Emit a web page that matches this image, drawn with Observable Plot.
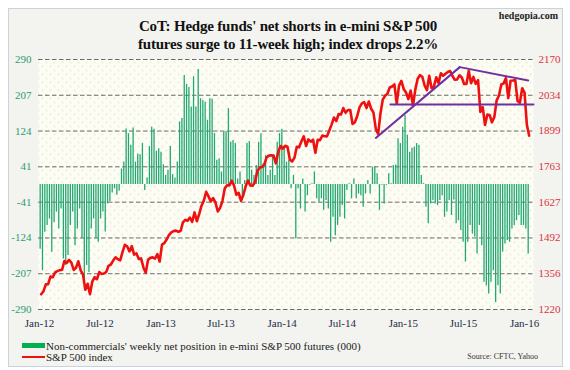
<!DOCTYPE html>
<html><head><meta charset="utf-8">
<script src="https://cdn.jsdelivr.net/npm/d3@7"></script>
<script src="https://cdn.jsdelivr.net/npm/@observablehq/plot@0.6"></script>
<style>
html,body{margin:0;padding:0;width:570px;height:370px;overflow:hidden;background:#fff;font-family:"Liberation Serif","DejaVu Serif",serif;}
#box{position:absolute;left:8px;top:8px;width:555px;height:359px;border:1px solid #c9d3de;background:#f3f3f0;box-sizing:border-box;}
#title{position:absolute;left:3px;top:17px;width:570px;text-align:center;font-weight:bold;font-size:15px;line-height:18px;color:#111;letter-spacing:-0.2px;}
#brand{position:absolute;right:12px;top:10px;font-weight:bold;font-size:10px;color:#222;}
#chart{position:absolute;left:0;top:48px;}
.sw{position:absolute;left:22px;width:23px;}
.lt{position:absolute;left:46px;font-size:11px;line-height:13px;color:#222;white-space:nowrap;}
#src{position:absolute;right:32px;top:352px;font-size:8px;line-height:10px;color:#333;}
</style></head>
<body>
<div id="box"></div>
<div id="title">CoT: Hedge funds' net shorts in e-mini S&amp;P 500<br>futures surge to 11-week high; index drops 2.2%</div>
<div id="brand">hedgopia.com</div>
<div id="chart"></div>
<div class="sw" style="top:343px;height:5px;background:#00b050;"></div>
<div class="lt" style="top:340px;">Non-commercials' weekly net position in e-mini S&amp;P 500 futures (000)</div>
<div class="sw" style="top:356px;height:2px;background:#ee1111;"></div>
<div class="lt" style="top:351px;">S&amp;P 500 index</div>
<div id="src">Source: CFTC, Yahoo</div>
<script>
// Weekly net position (000), Tuesdays from 2012-01-03
const netPos = [
-150,-200,-111,-95,-80,-157,-88,-64,-103,-57,
-173,-188,-165,-95,-64,-142,-103,-57,-126,-219,
-188,-204,-103,-80,-126,-134,-80,-64,-110,-45,
-40,-20,-10,-25,-15,
36,52,129,118,91,131,52,71,69,95,-14,15,88,133,128,77,83,75,46,21,33,88,23,15,52,145,153,253,232,225,180,250,180,267,199,
195,191,149,199,198,118,56,60,29,122,123,176,98,102,95,13,29,-37,9,95,100,33,21,44,98,118,48,67,21,33,67,21,98,118,128,88,
52,56,-10,21,-126,-10,-57,13,-64,-26,-2,2,29,-33,-41,-33,-60,-37,-57,-134,-76,-119,-95,-76,-49,-80,-14,2,-33,13,-33,-22,-26,-53,-22,
9,-22,40,40,25,-60,-2,-45,-2,25,2,44,45,106,95,133,160,114,75,84,87,95,91,21,2,-53,-91,-45,-37,-45,-49,-37,-26,-76,-64,
-37,-72,-36,-91,-84,-107,-134,-180,-134,-95,-115,-122,-161,-95,-142,-227,-235,-254,-227,-200,-274,-235,-254,-157,-138,-130,-134,-103,-95,-84,-72,-95,-95,-103,-161
];
const netStart = "2012-01-03";
// S&P 500 weekly close, Fridays from 2012-01-06
const spx = [
1277.81,1289.09,1315.38,1316.33,1344.90,1342.64,1361.23,1365.74,1369.63,1370.87,
1404.17,1397.11,1408.47,1398.08,1370.26,1378.53,1403.36,1369.10,1353.39,1295.22,
1317.82,1278.04,1325.66,1342.84,1335.02,1362.16,1354.68,1356.78,1362.66,1385.97,
1390.99,1405.87,1418.16,1411.13,1406.58,1437.92,1465.77,1460.15,1440.67,1460.93,
1428.59,1433.19,1411.94,1414.20,1379.85,1359.88,1409.15,1416.18,1418.07,1413.58,1430.15,1402.43,
1466.47,1472.05,1485.98,1502.96,1513.17,1517.93,1519.79,1515.60,1518.20,1551.18,1560.70,1556.89,1569.19,
1553.28,1588.85,1555.25,1582.24,1614.42,1633.70,1667.47,1649.60,1630.74,1643.38,1626.73,1592.43,1606.28,
1631.89,1680.19,1692.09,1691.65,1709.67,1691.42,1655.83,1663.50,1632.97,1655.17,1687.99,1709.91,1691.75,
1690.50,1703.20,1744.50,1759.77,1761.64,1770.61,1798.18,1804.76,1805.81,1805.09,1775.32,1818.32,1841.40,
1831.37,1842.37,1838.70,1790.29,1782.59,1797.02,1838.63,1836.25,1859.45,1878.04,1841.13,1866.52,1857.62,
1865.09,1815.69,1864.85,1863.40,1881.14,1878.48,1877.86,1900.53,1923.57,1949.44,1936.16,1962.87,1960.96,
1985.44,1967.57,1978.22,1978.34,1925.15,1931.59,1955.06,1988.40,2003.37,2007.71,1985.54,2010.40,1982.85,
1967.90,1906.13,1886.76,1964.58,2018.05,2031.92,2039.82,2063.50,2067.56,2075.37,2002.33,2070.65,2088.77,
2058.20,2044.81,2019.42,2051.82,1994.99,2055.47,2096.99,2110.30,2104.50,2071.26,2053.40,2108.10,2061.02,
2066.96,2102.06,2081.18,2117.69,2108.29,2116.10,2122.73,2126.06,2107.39,2092.83,2094.11,2109.99,2101.49,
2076.78,2076.62,2126.64,2079.65,2103.84,2077.57,2091.54,1970.89,1988.87,1921.22,1961.05,1958.03,1931.34,
1951.36,2014.89,2033.11,2075.15,2079.36,2099.20,2023.04,2089.17,2090.11,2091.69,2012.37,2005.55,2060.99,2043.94,
1922.03,1880.33
];
const spxStart = "2012-01-06";
const leftTicks = [-290,-207,-124,-41,41,124,207,290];
const rightTicks = [1220,1356,1492,1627,1763,1899,2034,2170];
const xTicks = ["2012-01-01","2012-07-01","2013-01-01","2013-07-01","2014-01-01","2014-07-01","2015-01-01","2015-07-01","2016-01-01"];
const trendUpDates = ["2014-10-10","2015-06-20"], trendUpVals = [1872,2141];
const trendDownDates = ["2015-06-20","2016-01-12"], trendDownVals = [2141,2090];
const supportDates = ["2014-11-23","2016-01-28"], supportVals = [1999,1999];

const toLeft = v => -290 + (v - 1220) * 580 / 950;
const bars = netPos.map((v,i)=>({date: d3.utcDay.offset(new Date(netStart), 7*i), v}));
const line = spx.map((v,i)=>({date: d3.utcDay.offset(new Date(spxStart), 7*i), v: toLeft(v)}));
const seg = (ds, vs) => ds.map((d,i)=>({date: new Date(d), v: toLeft(vs[i])}));

const chart = Plot.plot({
  width: 570, height: 290,
  marginLeft: 38, marginRight: 37, marginTop: 11, marginBottom: 29,
  style: {background: "transparent", fontFamily: "Liberation Serif, serif", fontSize: "11px"},
  x: {type: "utc", domain: [new Date("2011-12-29"), new Date("2016-01-28")]},
  y: {domain: [-290, 290]},
  marks: [
    Plot.frame({fill: "url(#dots)", stroke: "none"}),
    Plot.ruleY(leftTicks, {stroke: "#5a5a5a", strokeDasharray: "4.5,2.5", strokeWidth: 0.9}),
    Plot.ruleX(bars, {x: "date", y1: 0, y2: "v", stroke: "#22a873", strokeWidth: 1.3}),
    Plot.line(line, {x: "date", y: "v", stroke: "#ee1111", strokeWidth: 2.6}),
    Plot.line(seg(trendUpDates, trendUpVals), {x: "date", y: "v", stroke: "#7030a0", strokeWidth: 2}),
    Plot.line(seg(trendDownDates, trendDownVals), {x: "date", y: "v", stroke: "#7030a0", strokeWidth: 2}),
    Plot.line(seg(supportDates, supportVals), {x: "date", y: "v", stroke: "#7030a0", strokeWidth: 2}),
    Plot.axisY(leftTicks, {tickSize: 0, tickPadding: 7, tickFormat: d => String(d), color: "#2c9d6c", label: null}),
    Plot.text(rightTicks, {y: d => toLeft(d), text: d => String(d), frameAnchor: "right", dx: 5, textAnchor: "start", fill: "#d8343c"}),
    Plot.axisX(xTicks.map(d => new Date(d)), {tickSize: 0, tickPadding: 10, tickFormat: d3.utcFormat("%b-%y"), color: "#1d2b45", label: null})
  ]
});
const svg = d3.select(chart);
const defs = svg.insert("defs", ":first-child");
const pat = defs.append("pattern").attr("id", "dots").attr("width", 8).attr("height", 8).attr("patternUnits", "userSpaceOnUse");
pat.append("rect").attr("width", 8).attr("height", 8).attr("fill", "#fdfdf7");
pat.append("circle").attr("cx", 2).attr("cy", 2).attr("r", 0.9).attr("fill", "#efe9b8");
pat.append("circle").attr("cx", 6).attr("cy", 6).attr("r", 0.9).attr("fill", "#efe9b8");
document.getElementById("chart").appendChild(chart);
</script>
</body></html>
